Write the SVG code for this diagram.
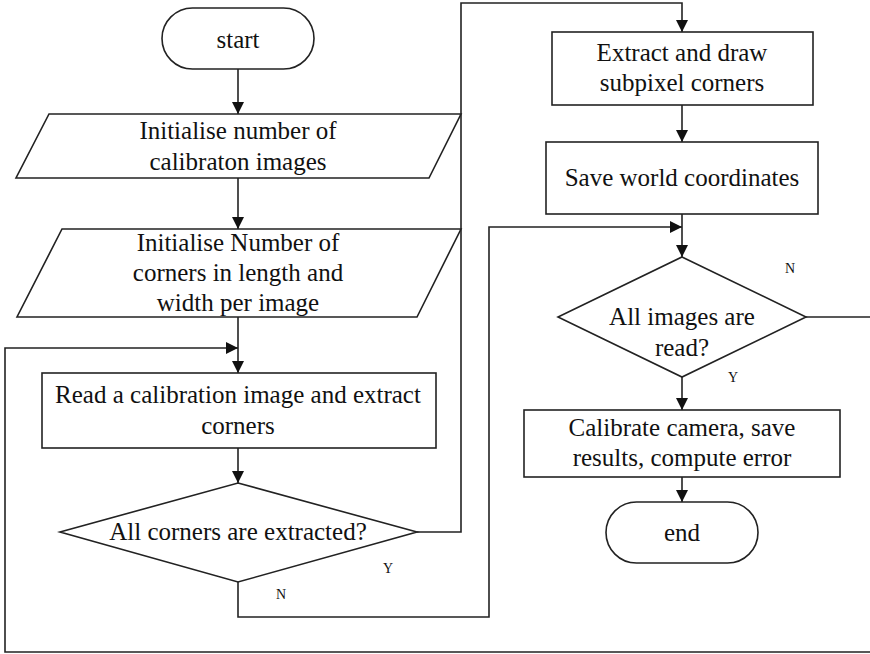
<svg xmlns="http://www.w3.org/2000/svg" width="870" height="654" viewBox="0 0 870 654">
<style>
.box{fill:#fff;stroke:#222;stroke-width:1.6}
.wire{fill:none;stroke:#222;stroke-width:1.6}
</style>
<defs>
<marker id="a" viewBox="0 0 12 12" refX="12" refY="6" markerWidth="12" markerHeight="12" markerUnits="userSpaceOnUse" orient="auto">
<path d="M0,0 L12,6 L0,12 Z" fill="#111"/>
</marker>
</defs>
<rect width="870" height="654" fill="#fff"/>
<g id="connectors">
<path class="wire" d="M238,69 V114" marker-end="url(#a)"/>
<path class="wire" d="M238,178 V229" marker-end="url(#a)"/>
<path class="wire" d="M238,317 V373" marker-end="url(#a)"/>
<path class="wire" d="M871,317 V652 H5 V348 H238" marker-end="url(#a)"/>
<path class="wire" d="M238,448 V483" marker-end="url(#a)"/>
<path class="wire" d="M417,532 H461 V3 H682 V32" marker-end="url(#a)"/>
<path class="wire" d="M238,582 V617 H489 V227 H682" marker-end="url(#a)"/>
<path class="wire" d="M682,105 V142" marker-end="url(#a)"/>
<path class="wire" d="M682,214 V257" marker-end="url(#a)"/>
<path class="wire" d="M806,317 H871"/>
<path class="wire" d="M682,377 V410" marker-end="url(#a)"/>
<path class="wire" d="M682,477 V502" marker-end="url(#a)"/>
<text font-family="Liberation Serif" font-size="14" fill="#111" text-anchor="middle" x="388" y="573">Y</text>
<text font-family="Liberation Serif" font-size="14" fill="#111" text-anchor="middle" x="281" y="599">N</text>
<text font-family="Liberation Serif" font-size="14" fill="#111" text-anchor="middle" x="790" y="273">N</text>
<text font-family="Liberation Serif" font-size="14" fill="#111" text-anchor="middle" x="733" y="382">Y</text>
</g>
<g id="start">
<rect class="box" x="162" y="8" width="152" height="61" rx="30.5"/>
<text font-family="Liberation Serif" font-size="25" fill="#111" text-anchor="middle" x="238" y="48">start</text>
</g>
<g id="init-images">
<polygon class="box" points="49,114 461,114 429,178 16,178"/>
<text font-family="Liberation Serif" font-size="25" fill="#111" text-anchor="middle" x="238" y="139">Initialise number of</text>
<text font-family="Liberation Serif" font-size="25" fill="#111" text-anchor="middle" x="238" y="170">calibraton images</text>
</g>
<g id="init-corners">
<polygon class="box" points="62,229 461,229 417,317 17,317"/>
<text font-family="Liberation Serif" font-size="25" fill="#111" text-anchor="middle" x="238" y="251">Initialise Number of</text>
<text font-family="Liberation Serif" font-size="25" fill="#111" text-anchor="middle" x="238" y="281">corners in length and</text>
<text font-family="Liberation Serif" font-size="25" fill="#111" text-anchor="middle" x="238" y="311">width per image</text>
</g>
<g id="read-image">
<rect class="box" x="42" y="373" width="394" height="75"/>
<text font-family="Liberation Serif" font-size="25" fill="#111" text-anchor="middle" x="238" y="403">Read a calibration image and extract</text>
<text font-family="Liberation Serif" font-size="25" fill="#111" text-anchor="middle" x="238" y="434">corners</text>
</g>
<g id="corners-extracted">
<polygon class="box" points="238,483 417,532 238,582 60,532"/>
<text font-family="Liberation Serif" font-size="25" fill="#111" text-anchor="middle" x="238" y="540">All corners are extracted?</text>
</g>
<g id="subpixel">
<rect class="box" x="552" y="32" width="261" height="73"/>
<text font-family="Liberation Serif" font-size="25" fill="#111" text-anchor="middle" x="682" y="61">Extract and draw</text>
<text font-family="Liberation Serif" font-size="25" fill="#111" text-anchor="middle" x="682" y="91">subpixel corners</text>
</g>
<g id="save-world">
<rect class="box" x="546" y="142" width="272" height="72"/>
<text font-family="Liberation Serif" font-size="25" fill="#111" text-anchor="middle" x="682" y="186">Save world coordinates</text>
</g>
<g id="images-read">
<polygon class="box" points="682,257 806,317 682,377 558,317"/>
<text font-family="Liberation Serif" font-size="25" fill="#111" text-anchor="middle" x="682" y="325">All images are</text>
<text font-family="Liberation Serif" font-size="25" fill="#111" text-anchor="middle" x="682" y="356">read?</text>
</g>
<g id="calibrate">
<rect class="box" x="524" y="410" width="316" height="67"/>
<text font-family="Liberation Serif" font-size="25" fill="#111" text-anchor="middle" x="682" y="436">Calibrate camera, save</text>
<text font-family="Liberation Serif" font-size="25" fill="#111" text-anchor="middle" x="682" y="466">results, compute error</text>
</g>
<g id="end">
<rect class="box" x="606" y="502" width="152" height="61" rx="30.5"/>
<text font-family="Liberation Serif" font-size="25" fill="#111" text-anchor="middle" x="682" y="541">end</text>
</g>
</svg>
